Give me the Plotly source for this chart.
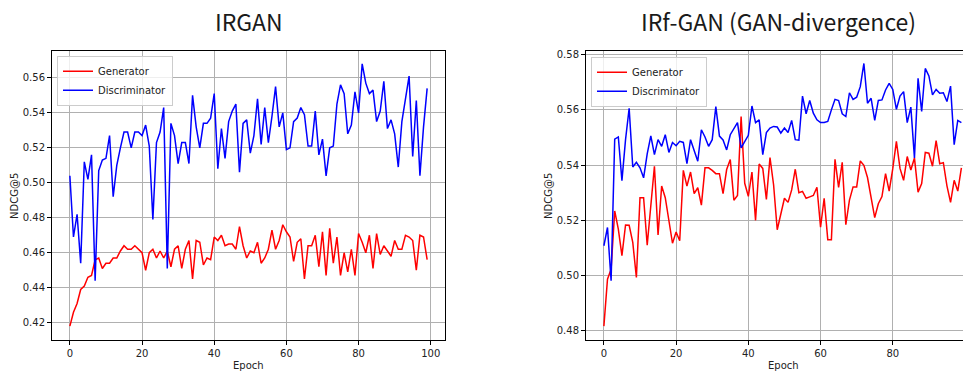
import plotly.graph_objects as go

epochs = list(range(100))

irgan_generator = [
    0.418, 0.426, 0.431, 0.439, 0.441, 0.446, 0.447, 0.456, 0.457, 0.451,
    0.454, 0.454, 0.457, 0.457, 0.461, 0.464, 0.462, 0.462, 0.464, 0.462,
    0.460, 0.450, 0.460, 0.462, 0.457, 0.461, 0.457, 0.461, 0.452, 0.462,
    0.464, 0.451, 0.462, 0.467, 0.445, 0.467, 0.466, 0.453, 0.457, 0.456,
    0.469, 0.467, 0.470, 0.464, 0.465, 0.465, 0.462, 0.475, 0.464, 0.457,
    0.461, 0.460, 0.466, 0.454, 0.457, 0.462, 0.473, 0.462, 0.467, 0.476,
    0.472, 0.469, 0.455, 0.466, 0.468, 0.445, 0.464, 0.464, 0.470, 0.452,
    0.472, 0.447, 0.474, 0.454, 0.469, 0.447, 0.460, 0.449, 0.462, 0.447,
    0.471, 0.466, 0.460, 0.470, 0.451, 0.471, 0.459, 0.464, 0.461, 0.458,
    0.467, 0.462, 0.462, 0.470, 0.469, 0.467, 0.450, 0.470, 0.469, 0.456,
]

irgan_discriminator = [
    0.504, 0.469, 0.482, 0.454, 0.512, 0.502, 0.516, 0.444, 0.507, 0.513,
    0.514, 0.527, 0.492, 0.510, 0.520, 0.529, 0.529, 0.520, 0.529, 0.529,
    0.527, 0.533, 0.521, 0.479, 0.523, 0.529, 0.543, 0.451, 0.534, 0.527,
    0.511, 0.523, 0.523, 0.511, 0.550, 0.532, 0.520, 0.534, 0.534, 0.537,
    0.551, 0.508, 0.531, 0.514, 0.535, 0.541, 0.545, 0.506, 0.534, 0.536,
    0.517, 0.527, 0.548, 0.522, 0.543, 0.523, 0.538, 0.555, 0.532, 0.540,
    0.519, 0.520, 0.535, 0.537, 0.543, 0.539, 0.521, 0.521, 0.541, 0.516,
    0.525, 0.504, 0.520, 0.521, 0.545, 0.556, 0.551, 0.528, 0.533, 0.552,
    0.540, 0.568, 0.557, 0.551, 0.553, 0.535, 0.541, 0.558, 0.531, 0.536,
    0.528, 0.509, 0.535, 0.547, 0.561, 0.515, 0.547, 0.504, 0.532, 0.554,
]

irfgan_generator = [
    0.4817, 0.4987, 0.5023, 0.5234, 0.5168, 0.5072, 0.5183, 0.5182, 0.5120, 0.4993,
    0.5282, 0.5282, 0.5110, 0.5246, 0.5396, 0.5147, 0.5324, 0.5282, 0.5198, 0.5117,
    0.5158, 0.5126, 0.5381, 0.5324, 0.5375, 0.5297, 0.5318, 0.5255, 0.5390, 0.5390,
    0.5381, 0.5369, 0.5369, 0.5297, 0.5384, 0.5420, 0.5273, 0.5290, 0.5576, 0.5334,
    0.5287, 0.5375, 0.5200, 0.5404, 0.5388, 0.5276, 0.5427, 0.5328, 0.5166, 0.5220,
    0.5280, 0.5265, 0.5310, 0.5385, 0.5300, 0.5305, 0.5280, 0.5285, 0.5290, 0.5320,
    0.5175, 0.5280, 0.5130, 0.5130, 0.5421, 0.5319, 0.5410, 0.5184, 0.5273, 0.5321,
    0.5321, 0.5415, 0.5399, 0.5355, 0.5282, 0.5210, 0.5260, 0.5286, 0.5369, 0.5306,
    0.5387, 0.5486, 0.5388, 0.5345, 0.5431, 0.5382, 0.5426, 0.5302, 0.5333, 0.5446,
    0.5443, 0.5396, 0.5489, 0.5405, 0.5409, 0.5325, 0.5265, 0.5345, 0.5306, 0.5390,
]

irfgan_discriminator = [
    0.5108, 0.5174, 0.4981, 0.5494, 0.5502, 0.5344, 0.5492, 0.5606, 0.5393, 0.5410,
    0.5390, 0.5354, 0.5441, 0.5506, 0.5438, 0.5492, 0.5468, 0.5510, 0.5446, 0.5482,
    0.5470, 0.5486, 0.5482, 0.5405, 0.5492, 0.5450, 0.5414, 0.5528, 0.5502, 0.5468,
    0.5492, 0.5612, 0.5505, 0.5491, 0.5455, 0.5510, 0.5530, 0.5554, 0.5462, 0.5486,
    0.5508, 0.5614, 0.5554, 0.5564, 0.5438, 0.5518, 0.5534, 0.5540, 0.5538, 0.5516,
    0.5534, 0.5518, 0.5562, 0.5492, 0.5490, 0.5650, 0.5586, 0.5634, 0.5588, 0.5564,
    0.5554, 0.5554, 0.5558, 0.5600, 0.5638, 0.5634, 0.5586, 0.5576, 0.5662, 0.5638,
    0.5646, 0.5684, 0.5768, 0.5624, 0.5642, 0.5562, 0.5634, 0.5636, 0.5672, 0.5696,
    0.5674, 0.5602, 0.5650, 0.5666, 0.5554, 0.5610, 0.5426, 0.5714, 0.5594, 0.5750,
    0.5723, 0.5654, 0.5674, 0.5660, 0.5662, 0.5630, 0.5686, 0.5474, 0.5562, 0.5554,
]

x_ticks = [0, 20, 40, 60, 80, 100]
left_y_ticks = [0.42, 0.44, 0.46, 0.48, 0.50, 0.52, 0.54, 0.56]
right_y_ticks = [0.48, 0.50, 0.52, 0.54, 0.56, 0.58]
titles = ["IRGAN", "IRf-GAN (GAN-divergence)"]
series_names = ["Generator", "Discriminator"]

# The page body adds an 8px margin, so the figure is drawn 8px smaller and
# all page-pixel positions below are shifted by that offset.
OFF = 8
W, H = 971 - OFF, 372 - OFF


def px(x):
    return (x - OFF) / W


def py(y):
    return 1 - (y - OFF) / H


RED = "#ff0000"
BLUE = "#0000ff"
TICKFONT = dict(family="DejaVu Sans", size=10, color="#222222")

fig = go.Figure()

fig.add_trace(go.Scatter(x=epochs, y=irgan_generator, mode="lines", name=series_names[0],
                         line=dict(color=RED, width=1.5), xaxis="x", yaxis="y", legend="legend"))
fig.add_trace(go.Scatter(x=epochs, y=irgan_discriminator, mode="lines", name=series_names[1],
                         line=dict(color=BLUE, width=1.5), xaxis="x", yaxis="y", legend="legend"))
fig.add_trace(go.Scatter(x=epochs, y=irfgan_generator, mode="lines", name=series_names[0],
                         line=dict(color=RED, width=1.5), xaxis="x2", yaxis="y2", legend="legend2"))
fig.add_trace(go.Scatter(x=epochs, y=irfgan_discriminator, mode="lines", name=series_names[1],
                         line=dict(color=BLUE, width=1.5), xaxis="x2", yaxis="y2", legend="legend2"))

ydom = [py(340), py(49)]
common_axis = dict(showgrid=True, gridcolor="#b0b0b0", gridwidth=0.8, showline=True,
                   linecolor="#000000", linewidth=1, ticks="outside", ticklen=4,
                   tickcolor="#000000", tickwidth=1, tickfont=TICKFONT, zeroline=False)

legend_style = dict(xanchor="left", yanchor="top",
                    bgcolor="rgba(255,255,255,0.8)", bordercolor="#cccccc", borderwidth=1,
                    font=dict(family="DejaVu Sans", size=10, color="#222222"),
                    tracegroupgap=0, itemwidth=30)

fig.update_layout(
    width=W, height=H,
    margin=dict(l=0, r=0, t=0, b=0),
    paper_bgcolor="white", plot_bgcolor="white",
    xaxis=dict(domain=[px(52), px(445)], range=[-4.95, 103.95], tickvals=x_ticks,
               anchor="y", mirror=True, **common_axis),
    yaxis=dict(domain=ydom, range=[0.4100, 0.5755], tickvals=left_y_ticks, tickformat=".2f",
               anchor="x", mirror=True, **common_axis),
    xaxis2=dict(domain=[px(586), 1.0], range=[-4.95, 101.66], tickvals=x_ticks,
                anchor="y2", mirror=True, **common_axis),
    yaxis2=dict(domain=ydom, range=[0.4766, 0.5814], tickvals=right_y_ticks, tickformat=".2f",
                anchor="x2", mirror=False, **common_axis),
    legend=dict(x=px(57), y=py(54), **legend_style),
    legend2=dict(x=px(591), y=py(55), **legend_style),
    showlegend=True,
)

for text, x in [(titles[0], 249), (titles[1], 778)]:
    fig.add_annotation(text=text, x=px(x), y=py(19), xref="paper", yref="paper",
                       xanchor="center", yanchor="middle", showarrow=False,
                       font=dict(family="Noto Sans CJK JP", size=23, color="#1a1a1a"))

axis_labels = [
    ("NDCG@5", 15, 195, -90),
    ("NDCG@5", 549, 195, -90),
    ("Epoch", 248, 365, 0),
    ("Epoch", 783, 365, 0),
]
for text, x, y, angle in axis_labels:
    fig.add_annotation(text=text, x=px(x), y=py(y), xref="paper", yref="paper",
                       xanchor="center", yanchor="middle", showarrow=False, textangle=angle,
                       font=dict(family="DejaVu Sans", size=10, color="#222222"))

fig.write_html("out.html")
